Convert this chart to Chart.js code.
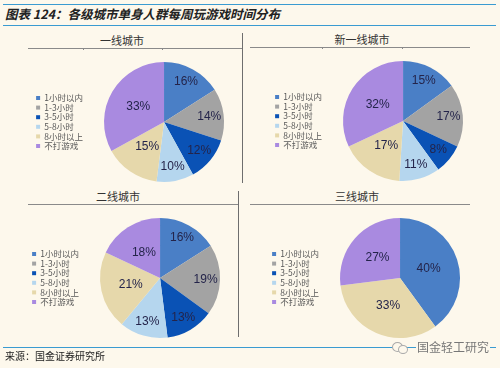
<!DOCTYPE html>
<html>
<head>
<meta charset="utf-8">
<script src="https://cdn.jsdelivr.net/npm/chart.js@4"></script>
<style>
  body { margin: 0; background: #fdf8ec; }
  #page { position: relative; width: 500px; height: 368px; background: #fdf8ec; overflow: hidden;
          font-family: "Noto Sans CJK SC", "DejaVu Sans", sans-serif; }
  .abs { position: absolute; }
  .hline { position: absolute; height: 1px; background: #8a8a8a; }
  .vline { position: absolute; width: 1px; background: #6e6e6e; }
  .blue { position: absolute; height: 1px; background: #3a9bd1; }
  .ptitle { position: absolute; font-size: 11px; color: #333; transform: translateX(-50%); white-space: nowrap; }
  .tick { position: absolute; width: 1px; height: 2px; background: #8a8a8a; }
  canvas { position: absolute; }
</style>
</head>
<body>
<div id="page">
  <div class="blue" style="left:3px; top:4px; width:493px;"></div>
  <div class="abs" style="left:5px; top:4px; font-size:12.5px; font-weight:bold; font-style:italic; color:#222; line-height:20px;">图表 124：各级城市单身人群每周玩游戏时间分布</div>
  <div class="blue" style="left:3px; top:25px; width:493px;"></div>

  <div class="ptitle" style="left:122px; top:32px;">一线城市</div>
  <div class="hline" style="left:28px; top:48px; width:214px;"></div>
  <div class="tick" style="left:83px; top:48px;"></div>
  <div class="tick" style="left:162px; top:48px;"></div>

  <div class="ptitle" style="left:362px; top:31px;">新一线城市</div>
  <div class="hline" style="left:250px; top:47px; width:220px;"></div>
  <div class="tick" style="left:322px; top:47px;"></div>
  <div class="tick" style="left:402px; top:47px;"></div>

  <div class="vline" style="left:242px; top:33px; height:150px;"></div>

  <div class="ptitle" style="left:118px; top:188px;">二线城市</div>
  <div class="hline" style="left:28px; top:204px; width:210px;"></div>

  <div class="ptitle" style="left:357px; top:188px;">三线城市</div>
  <div class="hline" style="left:250px; top:204px; width:220px;"></div>

  <div class="vline" style="left:238px; top:191px; height:146px;"></div>

  <canvas id="c1" width="200" height="124" style="left:35px; top:60px;"></canvas>
  <canvas id="c2" width="200" height="124" style="left:274px; top:59px;"></canvas>
  <canvas id="c3" width="200" height="124" style="left:31px; top:216px;"></canvas>
  <canvas id="c4" width="200" height="124" style="left:271px; top:216px;"></canvas>

  <div class="blue" style="left:3px; top:347px; width:493px;"></div>
  <div class="abs" style="left:5px; top:349px; font-size:10px; color:#222; line-height:14px;">来源：国金证券研究所</div>
  <div class="abs" style="left:392px; top:342px; width:9px; height:8px; border:1px solid #aaa; border-radius:50%; background:#fdf8ec;"></div>
  <div class="abs" style="left:398px; top:345px; width:8px; height:7px; border:1px solid #aaa; border-radius:50%; background:#fdf8ec;"></div>
  <div class="abs" style="left:416px; top:339px; font-size:12px; color:#777; line-height:16px; background:#fdf8ec; padding:0 1px;">国金轻工研究</div>
</div>
<script>
// 数据
const categories = ['1小时以内', '1-3小时', '3-5小时', '5-8小时', '8小时以上', '不打游戏'];
const tier1 = [16, 14, 12, 10, 15, 33];
const newTier1 = [15, 17, 8, 11, 17, 32];
const tier2 = [16, 19, 13, 13, 21, 18];
const tier3 = [40, 0, 0, 0, 33, 27];
const colors = ['#4a7fc6', '#a3a3a3', '#0a52b5', '#b5d6ee', '#e6d8ab', '#a98ae0'];

// percent labels inside slices
const pctLabels = {
    id: 'pctLabels',
    afterDatasetsDraw(chart) {
        const ctx = chart.ctx;
        const ds = chart.data.datasets[0];
        chart.getDatasetMeta(0).data.forEach((arc, i) => {
            let v = ds.data[i];
            if (!v) return;
            let mid = (arc.startAngle + arc.endAngle) / 2;
            let cx = Math.cos(mid);
            let f = (v < 20 && cx > -0.35) ? 0.76 : 0.5;
            let x = arc.x + Math.cos(mid) * arc.outerRadius * f;
            let y = arc.y + Math.sin(mid) * arc.outerRadius * f;
            ctx.save();
            ctx.font = '12px "Liberation Sans", Arial, sans-serif';
            ctx.fillStyle = '#24244a';
            ctx.textAlign = 'center';
            ctx.textBaseline = 'middle';
            ctx.fillText(v + '%', x, y);
            ctx.restore();
        });
    }
};

function makePie(id, values) {
    new Chart(document.getElementById(id), {
        type: 'pie',
        data: {
            labels: categories,
            datasets: [{
                data: values,
                backgroundColor: colors,
                borderWidth: 0
            }]
        },
        options: {
            responsive: false,
            devicePixelRatio: 1,
            animation: false,
            layout: { padding: { top: 2, bottom: 2, left: 0, right: 0 } },
            plugins: {
                tooltip: { enabled: false },
                legend: {
                    position: 'left',
                    labels: {
                        boxWidth: 4,
                        boxHeight: 4,
                        padding: 1.1,
                        color: '#595959',
                        font: { size: 8.5, family: '"Noto Sans CJK SC", sans-serif' }
                    }
                }
            }
        },
        plugins: [pctLabels]
    });
}

makePie('c1', tier1);
makePie('c2', newTier1);
makePie('c3', tier2);
makePie('c4', tier3);
</script>
</body>
</html>
